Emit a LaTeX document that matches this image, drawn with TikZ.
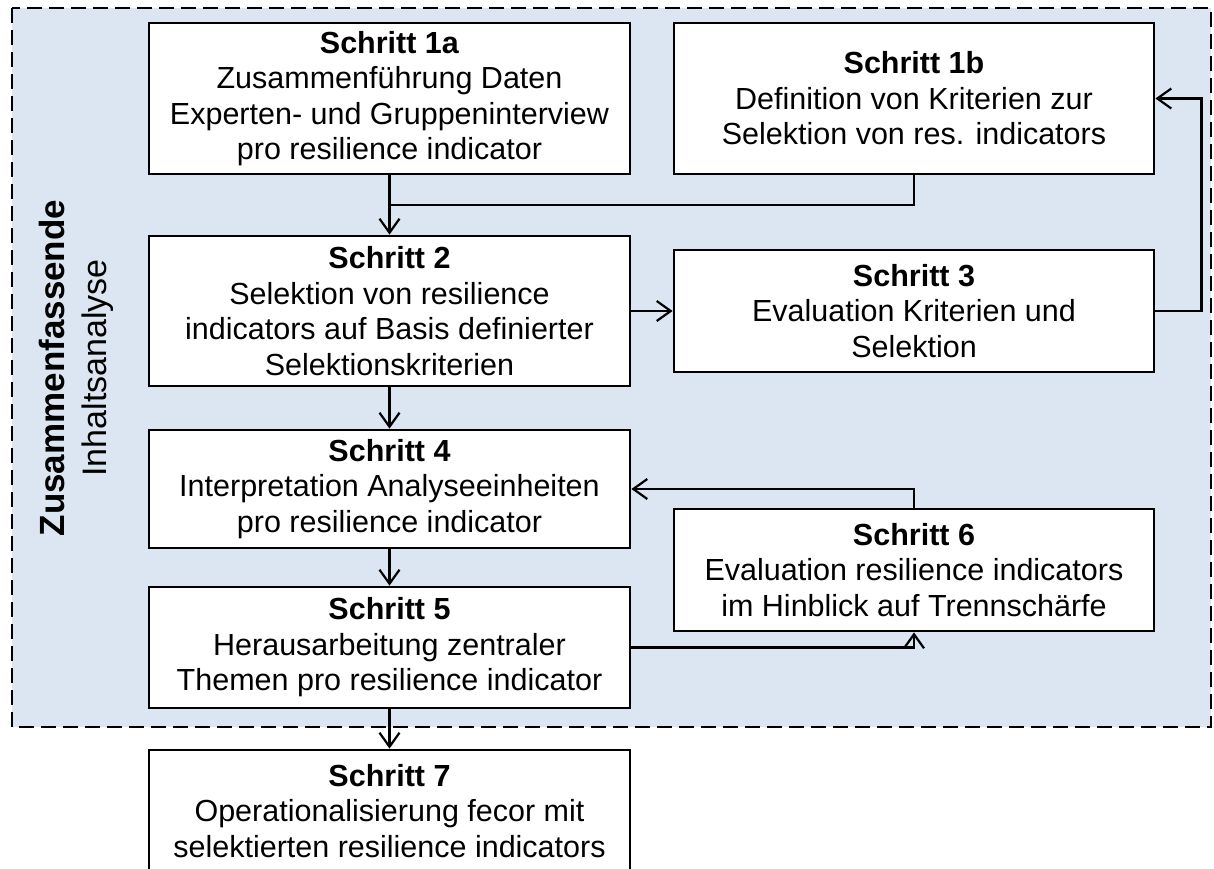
\documentclass[tikz,border=0pt]{standalone}
\usepackage{fontspec}
\setmainfont{Liberation Sans}
\usetikzlibrary{arrows.meta}
\definecolor{panel}{HTML}{DCE6F2}

\tikzset{
  stepbox/.style={draw=black, line width=2.8pt, fill=white, align=center,
    font=\fontsize{30.5}{35.5}\selectfont, inner sep=0pt, minimum width=481pt},
  link/.style={line width=2.2pt, -{Straight Barb[length=14pt,width=20pt]}},
  plain/.style={line width=2.2pt},
  sidelabel/.style={rotate=90, anchor=base, inner sep=0pt},
}

\begin{document}
\begin{tikzpicture}[x=1pt,y=-1pt]
  \useasboundingbox (0,0) rectangle (1214,868);
  \clip (0,0) rectangle (1214,868);

  % shaded, dashed frame around the content analysis steps
  \draw[fill=panel, line width=2.8pt, dash pattern=on 15pt off 7pt]
    (12,8) rectangle (1211,727);

  % side caption
  \node[sidelabel, font=\fontsize{35}{40}\selectfont\bfseries] (capA) at (64,368) {Zusammenfassende};
  \node[sidelabel, font=\fontsize{34}{40}\selectfont] (capB) at (106,368) {Inhaltsanalyse};

  % steps
  \node[stepbox, minimum height=151pt] (s1a) at (389.5,98.5)
    {\textbf{Schritt 1a}\\Zusammenführung Daten\\Experten-\ und Gruppeninterview\\pro resilience indicator};
  \node[stepbox, minimum width=480pt, minimum height=151pt] (s1b) at (914,98.5)
    {\textbf{Schritt 1b}\\Definition von Kriterien zur\\Selektion von res. indicators};
  \node[stepbox, minimum height=150pt] (s2) at (389.5,311)
    {\textbf{Schritt 2}\\Selektion von resilience\\indicators auf Basis definierter\\Selektionskriterien};
  \node[stepbox, minimum width=480pt, minimum height=122pt] (s3) at (914,311)
    {\textbf{Schritt 3}\\Evaluation Kriterien und\\Selektion};
  \node[stepbox, minimum height=118pt] (s4) at (389.5,489)
    {\textbf{Schritt 4}\\Interpretation Analyseeinheiten\\pro resilience indicator};
  \node[stepbox, minimum height=121pt] (s5) at (389.5,647.5)
    {\textbf{Schritt 5}\\Herausarbeitung zentraler\\Themen pro resilience indicator};
  \node[stepbox, minimum width=480pt, minimum height=122pt] (s6) at (914,570)
    {\textbf{Schritt 6}\\Evaluation resilience indicators\\im Hinblick auf Trennschärfe};
  \node[stepbox, minimum height=122pt] (s7) at (389.5,811)
    {\textbf{Schritt 7}\\Operationalisierung fecor mit\\selektierten resilience indicators};

  % connectors
  \coordinate (j1) at (389.5,205);
  \draw[link] (s1a.south) -- (s2.north);
  \draw[plain] (s1b.south) |- (j1);
  \draw[link] (s2.east) -- (s3.west);
  \draw[link] (s3.east) -- ++(46,0) |- (s1b.east);
  \draw[link] (s2.south) -- (s4.north);
  \draw[link] (s4.south) -- (s5.north);
  \draw[link] (s6.north) |- (s4.east);
  \draw[link] (s5.east) -| (s6.south);
  \draw[link] (s5.south) -- (s7.north);
\end{tikzpicture}
\end{document}
